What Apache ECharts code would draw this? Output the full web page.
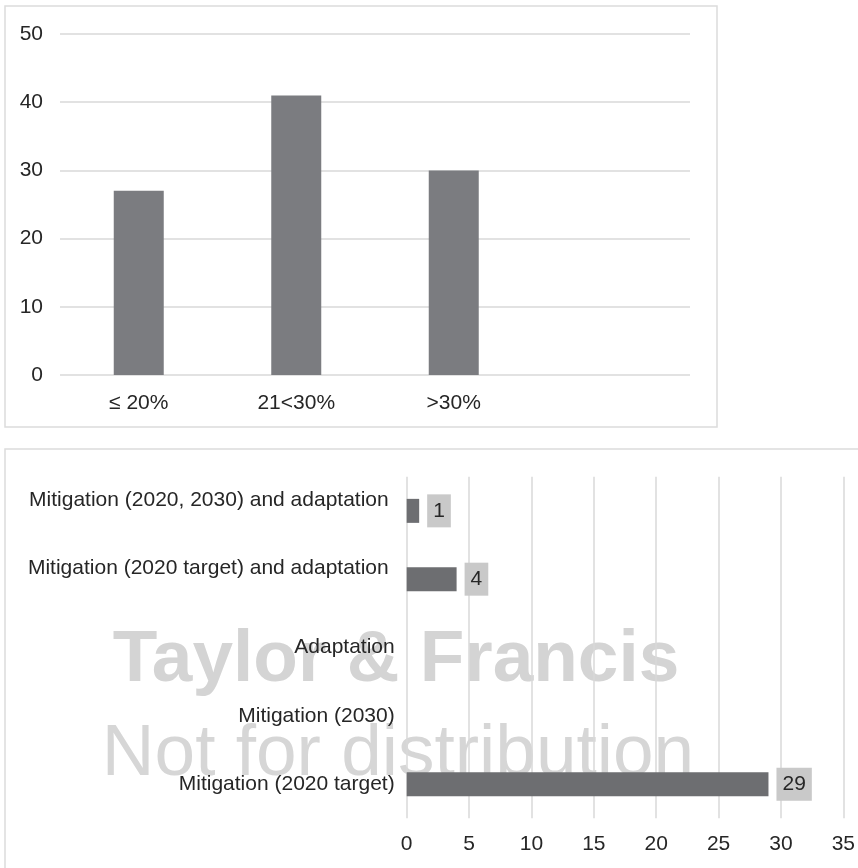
<!DOCTYPE html>
<html>
<head>
<meta charset="utf-8">
<script src="https://cdn.jsdelivr.net/npm/echarts@6/dist/echarts.min.js"></script>
<style>
  html, body { margin: 0; padding: 0; background: #ffffff; }
  #chart { width: 858px; height: 868px; }
</style>
</head>
<body>
<div id="chart"></div>
<script>
// Share of respondents per reduction band (upper panel)
const bandCategories = ['≤ 20%', '21<30%', '>30%', ''];
const bandValues = [27, 41, 30];
const bandAxis = { min: 0, max: 50, interval: 10 };

// Number of plans by focus (lower panel)
const focusCategories = [
  'Mitigation (2020, 2030) and adaptation',
  'Mitigation (2020 target) and adaptation',
  'Adaptation',
  'Mitigation (2030)',
  'Mitigation (2020 target)'
];
const focusValues = [1, 4, 0, 0, 29];
const focusAxis = { min: 0, max: 35, interval: 5 };

const FONT = '"Liberation Sans", Arial, Helvetica, sans-serif';
const TEXT = '#262626';
const GRID_LINE = '#d9d9d9';

const chart = echarts.init(document.getElementById('chart'), null, { renderer: 'canvas' });

const focusData = focusValues.map(v => ({
  value: v,
  label: { show: v > 0 }
}));

chart.setOption({
  backgroundColor: '#ffffff',
  animation: false,
  textStyle: { fontFamily: FONT },
  graphic: [
    // panel frames
    { type: 'rect', z: -2, shape: { x: 5, y: 6, width: 712, height: 421 },
      style: { fill: 'none', stroke: '#dcdcdc', lineWidth: 1.5 } },
    { type: 'rect', z: -2, shape: { x: 5, y: 449, width: 900, height: 460 },
      style: { fill: 'none', stroke: '#dcdcdc', lineWidth: 1.5 } },
    // publisher watermark behind the lower panel
    { type: 'text', z: -1, x: 396, y: 661,
      style: { text: 'Taylor & Francis', font: 'bold 73px ' + FONT, fill: '#d4d4d4',
               align: 'center', verticalAlign: 'middle' } },
    { type: 'text', z: -1, x: 398, y: 755,
      style: { text: 'Not for distribution', font: '73px ' + FONT, fill: '#d6d6d6',
               align: 'center', verticalAlign: 'middle' } }
  ],
  grid: [
    { left: 60, right: 168, top: 34, height: 341 },
    { left: 406.7, right: 13.7, top: 476.7, height: 341.6 }
  ],
  xAxis: [
    {
      gridIndex: 0, type: 'category', data: bandCategories,
      axisLine: { show: false }, axisTick: { show: false },
      axisLabel: { color: TEXT, fontSize: 21, fontFamily: FONT, margin: 18 }
    },
    {
      gridIndex: 1, type: 'value',
      min: focusAxis.min, max: focusAxis.max, interval: focusAxis.interval,
      axisLine: { show: false }, axisTick: { show: false },
      splitLine: { show: true, lineStyle: { color: GRID_LINE, width: 1.5 } },
      axisLabel: { color: TEXT, fontSize: 21, fontFamily: FONT, margin: 15 }
    }
  ],
  yAxis: [
    {
      gridIndex: 0, type: 'value',
      min: bandAxis.min, max: bandAxis.max, interval: bandAxis.interval,
      axisLine: { show: false }, axisTick: { show: false },
      splitLine: { show: true, lineStyle: { color: GRID_LINE, width: 1.5 } },
      axisLabel: { color: TEXT, fontSize: 21, fontFamily: FONT, margin: 17 }
    },
    {
      gridIndex: 1, type: 'category', data: focusCategories, inverse: true,
      axisLine: { show: false }, axisTick: { show: false },
      axisLabel: {
        color: TEXT, fontSize: 21, fontFamily: FONT, margin: 12,
        formatter: (v, i) => (i < 2 ? '{up|' + v + '}' : v),
        rich: {
          up: { color: TEXT, fontSize: 21, fontFamily: FONT, padding: [0, 6, 22, 0] }
        }
      }
    }
  ],
  series: [
    {
      type: 'bar', xAxisIndex: 0, yAxisIndex: 0,
      data: bandValues, barWidth: 50,
      itemStyle: { color: '#7b7c80' }
    },
    {
      type: 'bar', xAxisIndex: 1, yAxisIndex: 1,
      data: focusData, barWidth: 24,
      itemStyle: { color: '#6d6e71' },
      label: {
        show: true, position: 'right', distance: 8,
        color: TEXT, fontSize: 21, fontFamily: FONT, lineHeight: 21,
        backgroundColor: '#c9c9c9', padding: [6, 6, 6, 6]
      }
    }
  ]
});
</script>
</body>
</html>
